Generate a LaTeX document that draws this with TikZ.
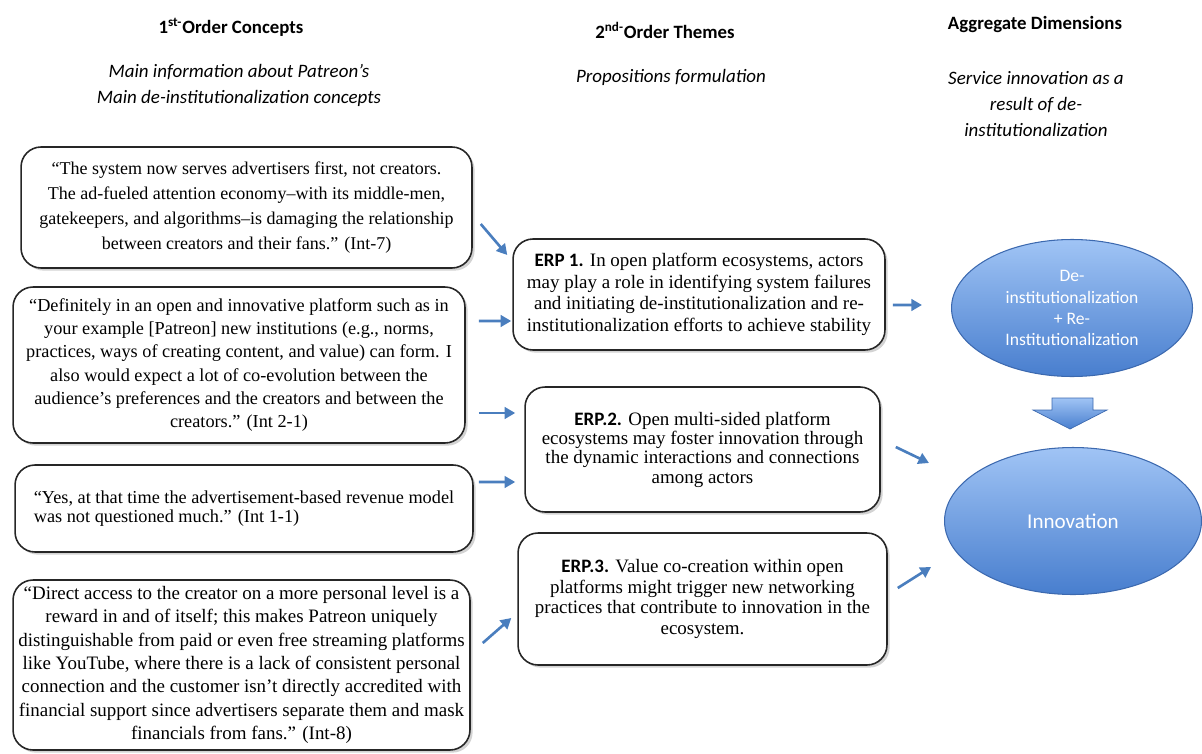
\documentclass[tikz,border=0pt]{standalone}
\usepackage{fontspec}
\setmainfont{Liberation Serif}
\newfontfamily\calibri{Carlito}
\usetikzlibrary{shapes.geometric,arrows.meta,shadows}
\definecolor{flowblue}{RGB}{74,126,190}
\definecolor{ovaltop}{RGB}{160,196,245}
\definecolor{ovalbot}{RGB}{72,126,206}
\definecolor{ovaledge}{RGB}{60,105,175}

\begin{document}
\begin{tikzpicture}[x=0.02cm, y=-0.02cm,
  quotebox/.style = {draw=black!85, line width=0.9pt, rounded corners=0.4cm, fill=white,
    drop shadow={shadow xshift=1.5pt, shadow yshift=-1.5pt, opacity=0.35},
    align=center, inner sep=0pt, font=\fontsize{10.4}{13.3}\selectfont},
  erpbox/.style = {quotebox, font=\fontsize{10.8}{12}\selectfont},
  dimoval/.style = {ellipse, draw=ovaledge, line width=0.6pt, top color=ovaltop,
    bottom color=ovalbot, text=white, inner sep=0pt, align=center,
    font=\calibri\fontsize{10}{12}\selectfont},
  flowarrow/.style = {-{Triangle[length=6pt,width=6.5pt]}, line width=1.5pt, flowblue},
  headlbl/.style = {font=\calibri\bfseries\fontsize{10.7}{13}\selectfont},
  sublbl/.style = {font=\calibri\itshape\fontsize{10.8}{14.8}\selectfont, align=center}
]
  \useasboundingbox (0,0) rectangle (1202,753);

  % column heads
  \node[headlbl] (h1) at (231,27) {1\textsuperscript{st-}Order Concepts};
  \node[sublbl] (s1) at (239,85) {Main information about Patreon’s\\ Main de-institutionalization concepts};
  \node[headlbl] (h2) at (665,30) {2\textsuperscript{nd-}Order Themes};
  \node[sublbl] (s2) at (671,77) {Propositions formulation};
  \node[headlbl] (h3) at (1035,25) {Aggregate Dimensions};
  \node[sublbl] (s3) at (1036,104) {Service innovation as a\\ result of de-\\ institutionalization};

  % 1st-order quotes
  \node[quotebox, minimum width=9.02cm, minimum height=2.42cm,
    font=\fontsize{10.25}{14.3}\selectfont] (qa) at (246.5,207.5)
    {“The system now serves advertisers first, not creators.\\
     The ad-fueled attention economy–with its middle-men,\\
     gatekeepers, and algorithms–is damaging the relationship\\
     between creators and their fans.” (Int-7)};
  \node[quotebox, minimum width=9.04cm, minimum height=3.12cm] (qb) at (239,365)
    {“Definitely in an open and innovative platform such as in\\
     your example [Patreon] new institutions (e.g., norms,\\
     practices, ways of creating content, and value) can form. I\\
     also would expect a lot of co-evolution between the\\
     audience’s preferences and the creators and between the\\
     creators.” (Int 2-1)};
  \node[quotebox, minimum width=9.16cm, minimum height=1.74cm, align=left,
    font=\fontsize{10.4}{10.8}\selectfont] (qc) at (244,508.5)
    {“Yes, at that time the advertisement-based revenue model\\
     was not questioned much.” (Int 1-1)};
  \node[quotebox, minimum width=9.14cm, minimum height=3.4cm,
    font=\fontsize{10.8}{13.3}\selectfont] (qd) at (241.5,665)
    {“Direct access to the creator on a more personal level is a\\
     reward in and of itself; this makes Patreon uniquely\\
     distinguishable from paid or even free streaming platforms\\
     like YouTube, where there is a lack of consistent personal\\
     connection and the customer isn’t directly accredited with\\
     financial support since advertisers separate them and mask\\
     financials from fans.” (Int-8)};

  % 2nd-order propositions
  \node[erpbox, minimum width=7.44cm, minimum height=2.22cm,
    font=\fontsize{10.8}{12.3}\selectfont] (erp1) at (699,294.5)
    {{\calibri\bfseries ERP 1.} In open platform ecosystems, actors\\
     may play a role in identifying system failures\\
     and initiating de-institutionalization and re-\\
     institutionalization efforts to achieve stability};
  \node[erpbox, minimum width=7.1cm, minimum height=2.5cm,
    font=\fontsize{10.8}{11}\selectfont] (erp2) at (702.5,449.5)
    {{\calibri\bfseries ERP.2.} Open multi-sided platform\\
     ecosystems may foster innovation through\\
     the dynamic interactions and connections\\
     among actors};
  \node[erpbox, minimum width=7.38cm, minimum height=2.64cm,
    font=\fontsize{10.8}{11.7}\selectfont] (erp3) at (702.5,599)
    {{\calibri\bfseries ERP.3.} Value co-creation within open\\
     platforms might trigger new networking\\
     practices that contribute to innovation in the\\
     ecosystem.};

  % aggregate dimensions
  \node[dimoval, minimum width=4.82cm, minimum height=2.74cm] (dim1) at (1072,308)
    {De-\\ institutionalization\\ + Re-\\ Institutionalization};
  \node[dimoval, minimum width=5.14cm, minimum height=2.94cm,
    font=\calibri\fontsize{12}{14}\selectfont] (inno) at (1073,521) {Innovation};

  % block arrow between the ovals
  \shade[top color=ovaltop, bottom color=ovalbot, draw=ovaledge, line width=0.4pt]
    (1052,398) -- (1093,398) -- (1093,410) -- (1107,410) -- (1070,429)
    -- (1033,410) -- (1052,410) -- cycle;

  % connectors
  \draw[flowarrow] ([shift={(8,16.5)}]qa.east) -- ([shift={(-5,-39.5)}]erp1.west);
  \draw[flowarrow] ([shift={(13,-44)}]qb.east) -- ([shift={(-1,26.5)}]erp1.west);
  \draw[flowarrow] ([shift={(13,48)}]qb.east) -- ([shift={(-9,-36.5)}]erp2.west);
  \draw[flowarrow] ([shift={(5,-26.5)}]qc.east) -- ([shift={(-9,32.5)}]erp2.west);
  \draw[flowarrow] ([shift={(12,-22)}]qd.east) -- ([shift={(-6,19)}]erp3.west);
  \draw[flowarrow] ([shift={(7,10.5)}]erp1.east) -- ([shift={(-29,-3)}]dim1.west);
  \draw[flowarrow] ([shift={(15,-2.5)}]erp2.east) -- ([shift={(-15,-58)}]inno.west);
  \draw[flowarrow] ([shift={(10,-11)}]erp3.east) -- ([shift={(-13,46)}]inno.west);
\end{tikzpicture}
\end{document}
